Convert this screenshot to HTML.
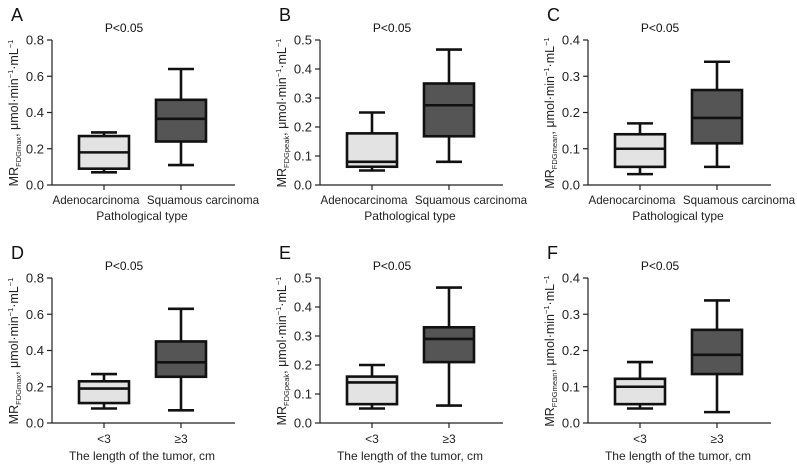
<!DOCTYPE html>
<html><head><meta charset="utf-8"><style>
body{margin:0;background:#fff;}
svg{display:block;font-family:"Liberation Sans",Arial,sans-serif;}
</style></head><body>
<svg id="chart" width="797" height="464"></svg>
<script>
const panelLetters=["A","B","C","D","E","F"];
const yMaxes=[0.8,0.5,0.4,0.8,0.5,0.4];
const yTickLists=[[0,0.2,0.4,0.6,0.8],[0,0.1,0.2,0.3,0.4,0.5],[0,0.1,0.2,0.3,0.4],[0,0.2,0.4,0.6,0.8],[0,0.1,0.2,0.3,0.4,0.5],[0,0.1,0.2,0.3,0.4]];
const subs=["FDGmax","FDGpeak","FDGmean","FDGmax","FDGpeak","FDGmean"];
const catsTop=["Adenocarcinoma","Squamous carcinoma"];
const catsBottom=["<3","≥3"];
const xTitles=["Pathological type","The length of the tumor, cm"];
// [min,q1,median,q3,max]
const group1=[[0.07,0.09,0.18,0.27,0.29],[0.05,0.063,0.08,0.178,0.25],[0.03,0.05,0.10,0.14,0.17],[0.08,0.11,0.19,0.23,0.27],[0.05,0.065,0.14,0.16,0.20],[0.04,0.052,0.10,0.122,0.168]];
const group2=[[0.11,0.24,0.365,0.47,0.64],[0.08,0.168,0.275,0.35,0.467],[0.05,0.115,0.185,0.262,0.34],[0.07,0.255,0.335,0.45,0.63],[0.06,0.21,0.29,0.33,0.467],[0.03,0.135,0.188,0.257,0.338]];

const svg=document.getElementById('chart');
const NS='http://www.w3.org/2000/svg';
function mk(tag,attrs,parent){const e=document.createElementNS(NS,tag);for(const k in attrs)e.setAttribute(k,attrs[k]);(parent||svg).appendChild(e);return e;}
const axX=[52,320,588];const topY=[40,278];const H=145;const axLen=183;
for(let p=0;p<6;p++){
  const col=p%3,row=Math.floor(p/3);
  const ax=axX[col],y0=topY[row]+H,yt=topY[row];
  const ymax=yMaxes[p];
  const ys=v=>y0-v/ymax*H;
  const g=mk('g',{});
  
  
  const L=mk('text',{x:ax-41,y:yt-19,'font-size':18,fill:'#111'},g);L.textContent=panelLetters[p];
  
  const P=mk('text',{x:ax+72,y:yt-8,'font-size':12,'text-anchor':'middle',fill:'#111'},g);P.textContent='P<0.05';
  
  const ya=mk('line',{x1:ax,y1:yt,x2:ax,y2:y0,stroke:'#222','stroke-width':1.2},g);
  
  const xa=mk('line',{x1:ax,y1:y0,x2:ax+axLen,y2:y0,stroke:'#222','stroke-width':1.2},g);
  
  yTickLists[p].forEach(v=>{
    mk('line',{x1:ax-5,y1:ys(v),x2:ax,y2:ys(v),stroke:'#222','stroke-width':1.2},g);
    const t=mk('text',{x:ax-8,y:ys(v)+4.5,'font-size':13,'text-anchor':'end',fill:'#222'},g);
    t.textContent=v.toFixed(1);
    
  });
  const yl=mk('text',{transform:`translate(${ax-34},${y0-72}) rotate(-90)`,'font-size':12.5,'text-anchor':'middle',fill:'#222'},g);
  yl.innerHTML='MR<tspan font-size="7.5" dy="3">'+subs[p]+'</tspan><tspan dy="-3">, μmol·min</tspan><tspan font-size="7.5" dy="-5">−1</tspan><tspan dy="5">·mL</tspan><tspan font-size="7.5" dy="-5">−1</tspan>';
  
  const cats=row===0?catsTop:catsBottom;
  [group1[p],group2[p]].forEach((d,i)=>{
    const cx=ax+52+i*77,bw=50;
    mk('line',{x1:cx,y1:y0,x2:cx,y2:y0+5,stroke:'#222','stroke-width':1.2},g);
    const bg=mk('g',{},g);
    
    const sw=2.6;
    mk('line',{x1:cx,y1:ys(d[0]),x2:cx,y2:ys(d[4]),stroke:'#111','stroke-width':sw},bg);
    mk('line',{x1:cx-13,y1:ys(d[0]),x2:cx+13,y2:ys(d[0]),stroke:'#111','stroke-width':sw},bg);
    mk('line',{x1:cx-13,y1:ys(d[4]),x2:cx+13,y2:ys(d[4]),stroke:'#111','stroke-width':sw},bg);
    mk('rect',{x:cx-bw/2,y:ys(d[3]),width:bw,height:ys(d[1])-ys(d[3]),fill:i===0?'#e3e3e3':'#555','stroke':'#111','stroke-width':sw},bg);
    mk('line',{x1:cx-bw/2,y1:ys(d[2]),x2:cx+bw/2,y2:ys(d[2]),stroke:'#111','stroke-width':sw},bg);
    const ct=mk('text',{x:cx+(row===0?(i===0?-8:22):0),y:row===0?y0+19:y0+20,'font-size':row===0?11.6:12,'text-anchor':'middle',fill:'#222'},g);
    ct.textContent=cats[i];
    
  });
  const xt=mk('text',{x:ax+90,y:row===0?y0+35:y0+37,'font-size':12,'text-anchor':'middle',fill:'#222'},g);
  xt.textContent=xTitles[row];
  
}
</script>
</body></html>
